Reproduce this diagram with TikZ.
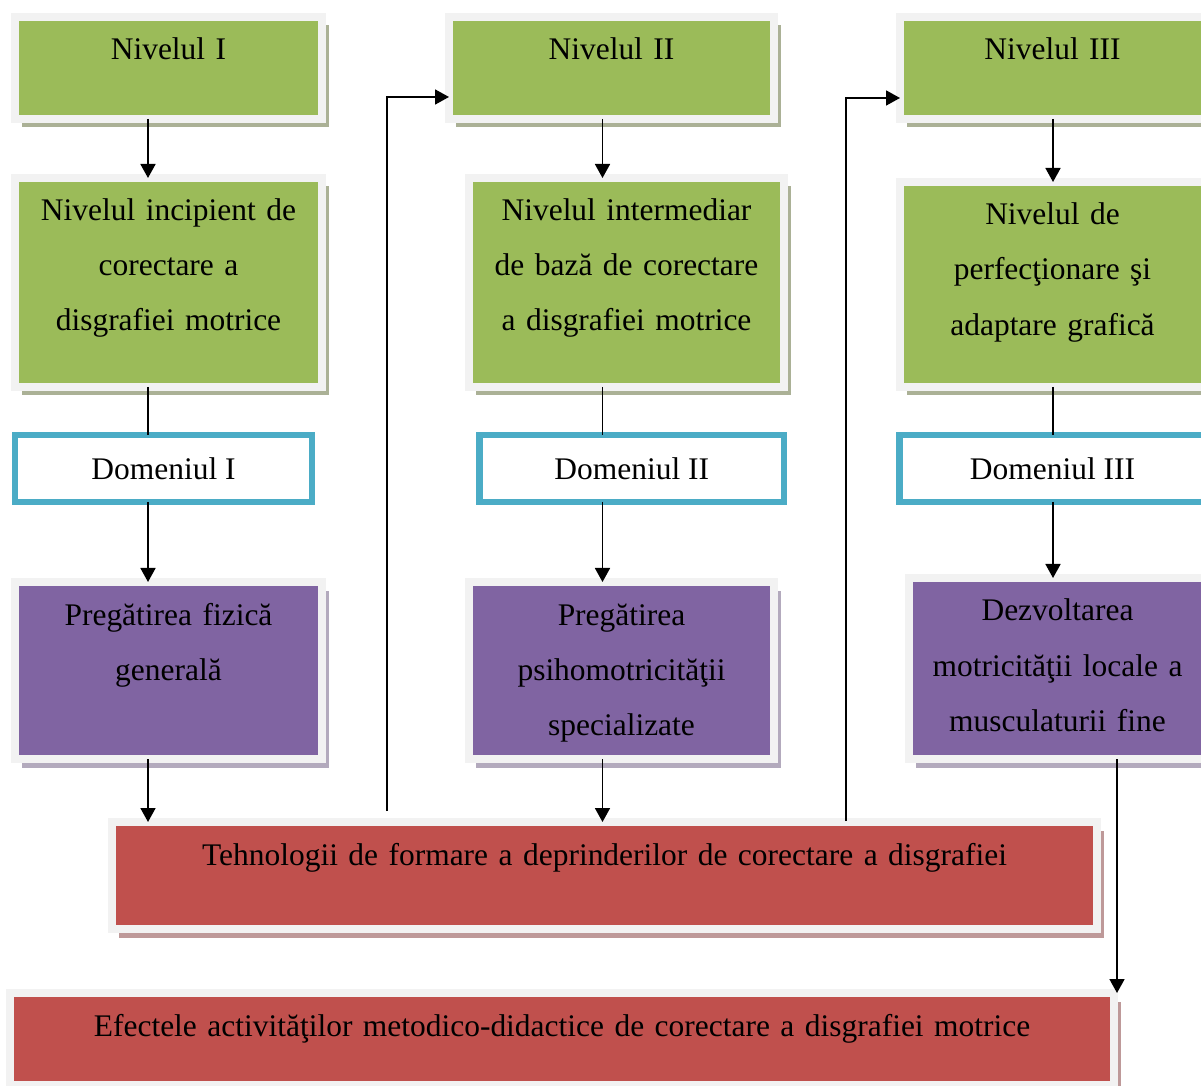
\documentclass[tikz,border=0pt]{standalone}
\usepackage{fontspec}
\setmainfont{Liberation Serif}
\usetikzlibrary{arrows.meta, positioning, shadows}

\definecolor{nivgreen}{HTML}{9BBB59}
\definecolor{prepviolet}{HTML}{8064A2}
\definecolor{techred}{HTML}{C0504D}
\definecolor{domblue}{HTML}{4BACC6}
\definecolor{framegray}{HTML}{F2F2F2}
\definecolor{greenshade}{HTML}{ABB196}
\definecolor{violetshade}{HTML}{B3AABD}
\definecolor{redshade}{HTML}{BE9999}

\begin{document}
\begin{tikzpicture}[
  font=\fontsize{17.9pt}{31.3pt}\selectfont,
  framebox/.style={draw=framegray, line width=0.16cm, inner sep=0pt, outer sep=0pt, align=center, text height=0.86cm},
  nivbox/.style={framebox, fill=nivgreen, general shadow={shadow xshift=0.14cm, shadow yshift=-0.17cm, fill=greenshade}},
  prepbox/.style={framebox, fill=prepviolet, general shadow={shadow xshift=0.14cm, shadow yshift=-0.17cm, fill=violetshade}},
  techbox/.style={framebox, fill=techred, general shadow={shadow xshift=0.14cm, shadow yshift=-0.17cm, fill=redshade}},
  dombox/.style={draw=domblue, line width=0.13cm, fill=white, inner sep=0pt, outer sep=0pt, minimum height=1.34cm},
  line/.style={-{Triangle[length=0.28cm, width=0.3cm]}, line width=1pt},
  link/.style={line width=1pt}
]
\useasboundingbox (0,0) rectangle (24.02,-21.72);

% Row 1: levels
\node[nivbox, anchor=north west, text width=6.14cm, text depth=1.18cm] (niv1) at (0.30,-0.34) {Nivelul I};
\node[nivbox, right=2.54cm of niv1, text width=6.5cm, text depth=1.18cm] (niv2) {Nivelul II};
\node[nivbox, right=2.52cm of niv2, text width=6.1cm, text depth=1.18cm] (niv3) {Nivelul III};

% Row 2: level descriptions
\node[nivbox, below=1.18cm of niv1, text width=6.14cm, text depth=3.32cm] (incip) {Nivelul incipient de\\corectare a\\disgrafiei motrice};
\node[nivbox, below=1.18cm of niv2, xshift=0.3cm, text width=6.3cm, text depth=3.32cm] (interm) {Nivelul intermediar\\de bază de  corectare\\a disgrafiei motrice};
\node[nivbox, below=1.26cm of niv3, text width=6.1cm, text depth=3.24cm] (perf) {Nivelul de\\perfecţionare şi\\adaptare grafică};

% Row 3: domains
\node[dombox, below=0.96cm of incip, xshift=-0.1cm, minimum width=5.94cm] (dom1) {Domeniul I};
\node[dombox, below=0.96cm of interm, xshift=0.105cm, minimum width=6.09cm] (dom2) {Domeniul II};
\node[dombox, below=0.96cm of perf, minimum width=6.12cm] (dom3) {Domeniul III};

% Row 4: preparation
\node[prepbox, below=1.6cm of dom1, xshift=0.1cm, text width=6.14cm, text depth=2.68cm] (fizic) {Pregătirea fizică\\generală};
\node[prepbox, below=1.6cm of dom2, xshift=-0.205cm, text width=6.1cm, text depth=2.68cm] (psiho) {Pregătirea\\psihomotricităţii\\specializate};
\node[prepbox, below=1.52cm of dom3, xshift=0.1cm, text width=5.96cm, text depth=2.76cm] (motric) {Dezvoltarea\\motricităţii locale a\\musculaturii fine};

% Row 5: technologies and effects
\node[techbox, below=1.26cm of psiho, xshift=-0.34cm, text width=19.7cm, text depth=1.28cm] (techn) {Tehnologii de formare a deprinderilor de corectare a disgrafiei};
\node[techbox, below=1.28cm of techn, xshift=-0.85cm, text width=22.08cm, text depth=0.98cm] (efect) {Efectele activităţilor metodico-didactice de corectare a disgrafiei motrice};

% Columns of the vertical connectors
\coordinate (c1) at (2.96,0);
\coordinate (c2) at (12.05,0);
\coordinate (c3) at (21.06,0);
\coordinate (c4) at (22.34,0);
\coordinate (u1) at (7.74,-16.22);
\coordinate (u2) at (16.92,-16.42);

% Column 1
\draw[line] (niv1.south -| c1) -- (incip.north -| c1);
\draw[link] (incip.south -| c1) -- (dom1.north -| c1);
\draw[line] (dom1.south -| c1) -- (fizic.north -| c1);
\draw[line] (fizic.south -| c1) -- (techn.north -| c1);

% Column 2
\draw[line] (niv2.south -| c2) -- (interm.north -| c2);
\draw[link] (interm.south -| c2) -- (dom2.north -| c2);
\draw[line] (dom2.south -| c2) -- (psiho.north -| c2);
\draw[line] (psiho.south -| c2) -- (techn.north -| c2);

% Column 3
\draw[line] (niv3.south -| c3) -- (perf.north -| c3);
\draw[link] (perf.south -| c3) -- (dom3.north -| c3);
\draw[line] (dom3.south -| c3) -- (motric.north -| c3);
\draw[line] (motric.south -| c4) -- (efect.north -| c4);

% Feedback to the next level
\draw[line] (u1) |- ([yshift=-0.58cm]niv2.west);
\draw[line] (u2) |- ([yshift=-0.6cm]niv3.west);

\end{tikzpicture}
\end{document}
